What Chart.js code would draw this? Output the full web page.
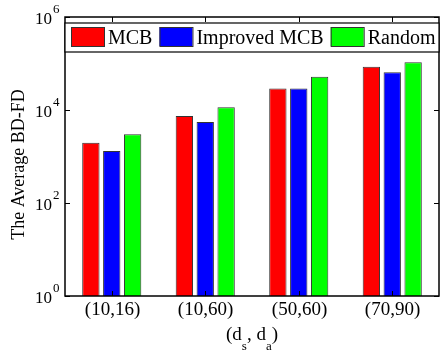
<!DOCTYPE html>
<html>
<head>
<meta charset="utf-8">
<script src="https://cdn.jsdelivr.net/npm/chart.js@4.4.0/dist/chart.umd.min.js"></script>
<style>
  html, body { margin: 0; padding: 0; background: #fff; }
  #wrap { width: 440px; height: 352px; }
</style>
</head>
<body>
<div id="wrap"><canvas id="myChart" width="440" height="352"></canvas></div>
<script>
const categories = ['(10,16)', '(10,60)', '(50,60)', '(70,90)'];
const mcbValues = [1980, 7400, 29000, 85000];
const improvedMcbValues = [1310, 5500, 29000, 65000];
const randomValues = [3000, 11400, 52000, 106000];
const seriesNames = ['MCB', 'Improved MCB', 'Random'];
const seriesColors = ['#ff0000', '#0000ff', '#00ff00'];
const yTickValues = [1, 100, 10000, 1000000];

const SERIF = '"Liberation Serif", "Times New Roman", serif';

// box, inward tick marks, log labels with superscripts and the axis titles
const axesDecor = {
    id: 'axesDecor',
    afterDatasetsDraw(chart) {
        const ctx = chart.ctx;
        const { left, right, top, bottom } = chart.chartArea;
        const xScale = chart.scales.x;
        const yScale = chart.scales.y;

        ctx.save();
        ctx.strokeStyle = '#000';
        ctx.fillStyle = '#000';
        ctx.lineWidth = 1.5;
        ctx.strokeRect(left, top, right - left, bottom - top);

        ctx.lineWidth = 1;
        yTickValues.forEach(v => {
            const py = Math.round(yScale.getPixelForValue(v)) + 0.5;
            ctx.beginPath();
            ctx.moveTo(left, py);
            ctx.lineTo(left + 5, py);
            ctx.moveTo(right, py);
            ctx.lineTo(right - 5, py);
            ctx.stroke();

            ctx.textBaseline = 'alphabetic';
            ctx.font = '17px ' + SERIF;
            ctx.textAlign = 'right';
            ctx.fillText('10', left - 13, py + 6);
            ctx.font = '13px ' + SERIF;
            ctx.textAlign = 'left';
            ctx.fillText(String(Math.round(Math.log10(v))), left - 12, py - 5);
        });

        categories.forEach((label, i) => {
            const px = Math.round(xScale.getPixelForValue(i)) + 0.5;
            ctx.beginPath();
            ctx.moveTo(px, top);
            ctx.lineTo(px, top + 5);
            ctx.moveTo(px, bottom);
            ctx.lineTo(px, bottom - 5);
            ctx.stroke();

            ctx.font = '19px ' + SERIF;
            ctx.textAlign = 'center';
            ctx.fillText(label, px, bottom + 19);
        });

        // x title: (d_s, d_a)
        const parts = [
            ['(d', 19, 0], ['s', 13, 10], [', d', 19, 0], ['a', 13, 10], [')', 19, 0]
        ];
        let total = 0;
        parts.forEach(p => { ctx.font = p[1] + 'px ' + SERIF; total += ctx.measureText(p[0]).width; });
        let tx = (left + right) / 2 - total / 2;
        ctx.textAlign = 'left';
        parts.forEach(p => {
            ctx.font = p[1] + 'px ' + SERIF;
            ctx.fillText(p[0], tx, 340 + p[2]);
            tx += ctx.measureText(p[0]).width;
        });

        // y title
        ctx.translate(24, (top + bottom) / 2 + 8);
        ctx.rotate(-Math.PI / 2);
        ctx.font = '18px ' + SERIF;
        ctx.textAlign = 'center';
        ctx.fillText('The Average BD-FD', 0, 0);
        ctx.restore();
    }
};

// framed legend strip across the top of the plot
const boxedLegend = {
    id: 'boxedLegend',
    afterDraw(chart) {
        const ctx = chart.ctx;
        const { left, right, top } = chart.chartArea;
        const boxTop = top + 6;
        const boxH = 29;

        ctx.save();
        ctx.fillStyle = '#fff';
        ctx.fillRect(left, boxTop, right - left, boxH);
        ctx.strokeStyle = '#000';
        ctx.lineWidth = 1.2;
        ctx.strokeRect(left, boxTop, right - left, boxH);

        ctx.font = '20px ' + SERIF;
        ctx.textBaseline = 'alphabetic';
        ctx.textAlign = 'left';
        let x = left + 6;
        chart.data.datasets.forEach(ds => {
            ctx.fillStyle = ds.backgroundColor;
            ctx.fillRect(x, boxTop + 4, 33, 19);
            ctx.strokeStyle = '#333';
            ctx.lineWidth = 1;
            ctx.strokeRect(x + 0.5, boxTop + 4.5, 33, 19);
            x += 37;
            ctx.fillStyle = '#000';
            ctx.fillText(ds.label, x, boxTop + 21);
            x += ctx.measureText(ds.label).width + 7;
        });
        ctx.restore();
    }
};

const seriesData = [mcbValues, improvedMcbValues, randomValues];

new Chart(document.getElementById('myChart'), {
    type: 'bar',
    data: {
        labels: categories,
        datasets: seriesNames.map((name, i) => ({
            label: name,
            data: seriesData[i],
            backgroundColor: seriesColors[i],
            borderColor: '#333',
            borderWidth: 1,
            borderSkipped: 'start',
            categoryPercentage: 0.67,
            barPercentage: 0.83
        }))
    },
    options: {
        responsive: false,
        animation: false,
        layout: { padding: { top: 17, right: 1, left: 0, bottom: 0 } },
        plugins: {
            legend: { display: false },
            tooltip: { enabled: false }
        },
        scales: {
            x: {
                ticks: { display: false },
                grid: { display: false },
                border: { display: false },
                afterFit: scale => { scale.height = 56; }
            },
            y: {
                type: 'logarithmic',
                min: 1,
                max: 1000000,
                ticks: { display: false },
                grid: { display: false },
                border: { display: false },
                afterBuildTicks: scale => { scale.ticks = yTickValues.map(v => ({ value: v })); },
                afterFit: scale => { scale.width = 65; }
            }
        }
    },
    plugins: [axesDecor, boxedLegend]
});
</script>
</body>
</html>
